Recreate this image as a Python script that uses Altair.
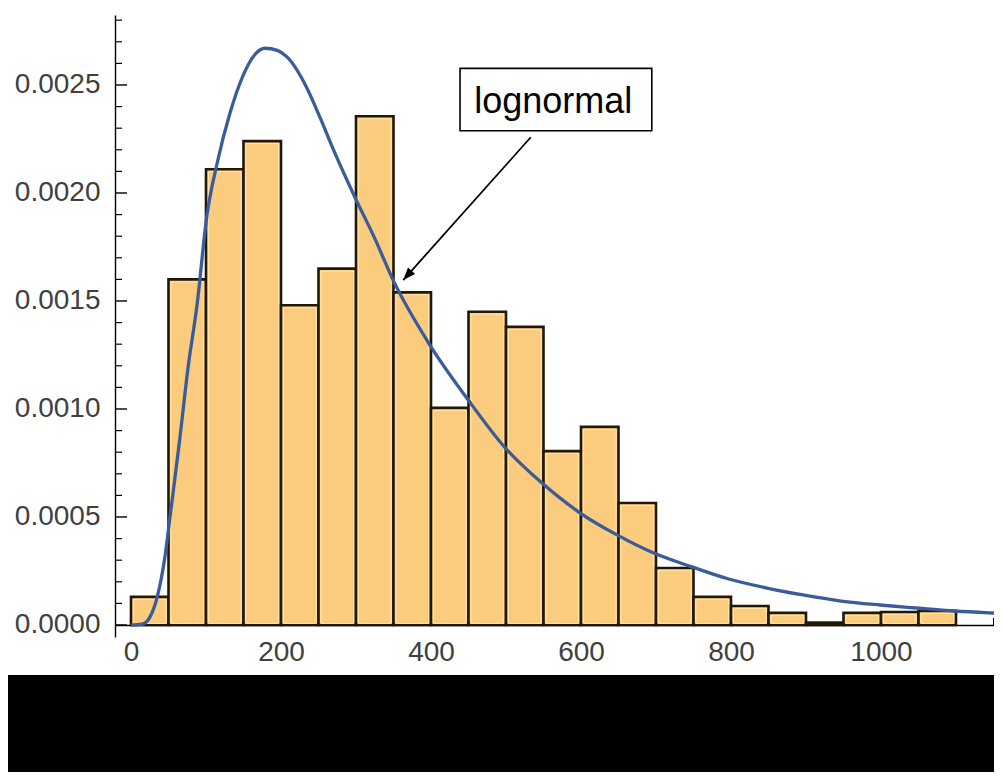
import altair as alt
import pandas as pd

# ---------------- data ----------------
bin_start = [0, 50, 100, 150, 200, 250, 300, 350, 400, 450, 500,
             550, 600, 650, 700, 750, 800, 850, 900, 950, 1000, 1050]
bin_density = [0.00013, 0.00160, 0.00211, 0.00224, 0.00148, 0.00165, 0.002355,
               0.00154, 0.001005, 0.00145, 0.00138, 0.000805, 0.000917, 0.000565,
               0.000264, 0.00013, 0.000088, 0.000056, 0.000011, 0.000056,
               0.00006, 0.000065]
bin_width = 50

curve_x = [0, 15, 25, 35, 45, 52, 65, 76, 88, 101, 115, 132, 149, 165, 179, 195,
           208, 234, 252, 270, 300, 325, 349, 396, 450, 499, 548, 597, 648, 697,
           748, 797, 848, 896, 947, 999, 1047, 1099, 1148, 1170]
curve_y = [0.0, 0.000004, 0.000035, 0.00013, 0.00031, 0.0005, 0.00086, 0.00119,
           0.00148, 0.00189, 0.00214, 0.00237, 0.00254, 0.00264, 0.00267, 0.00266,
           0.00263, 0.00249, 0.00235, 0.00220, 0.00197, 0.00179, 0.00160, 0.00131,
           0.00104, 0.00082, 0.000657, 0.000523, 0.000417, 0.000333, 0.000269,
           0.000213, 0.000171, 0.000139, 0.000111, 0.0000926, 0.0000787,
           0.0000648, 0.0000556, 0.000052]

y_major = [0.0, 0.0005, 0.0010, 0.0015, 0.0020, 0.0025]
y_minor = [0.0001, 0.0002, 0.0003, 0.0004, 0.0006, 0.0007, 0.0008, 0.0009,
           0.0011, 0.0012, 0.0013, 0.0014, 0.0016, 0.0017, 0.0018, 0.0019,
           0.0021, 0.0022, 0.0023, 0.0024, 0.0026, 0.0027, 0.0028]
x_major = [0, 200, 400, 600, 800, 1000]
x_minor = [50, 100, 150, 250, 300, 350, 450, 500, 550, 650, 700, 750,
           850, 900, 950, 1050, 1100, 1150]

label_text = "lognormal"
label_pos = {"x": 563.0, "y": 0.00237}
label_box = {"x": 438.7, "x2": 694.4, "y": 0.002577, "y2": 0.002288}
arrow = {"x": 533.0, "y": 0.002258, "x2": 363.0, "y2": 0.001597}

# ---------------- chart ----------------
FONT = "Liberation Sans"
bars_df = pd.DataFrame({"start": bin_start, "density": bin_density})
curve_df = pd.DataFrame({"x": curve_x, "y": curve_y})

xscale = alt.Scale(domain=[-21.33, 1150.67], nice=False, zero=False)
yscale = alt.Scale(domain=[-0.0000556, 0.002824], nice=False, zero=False)

x_axis = alt.Axis(values=x_major, format="d", offset=-12, title=None, grid=False,
                  ticks=False, tickSize=0, labelPadding=13, labelFont=FONT,
                  labelFontSize=28, labelColor="#404040", domainColor="black",
                  domainWidth=1.4, labelFlush=False)
y_axis = alt.Axis(values=y_major, format=".4f", title=None, grid=False,
                  ticks=False, tickSize=0, labelPadding=15, labelFont=FONT,
                  labelFontSize=28, labelColor="#404040", domainColor="black",
                  domainWidth=1.4, labelFlush=False)


def X(field):
    return alt.X(field, scale=xscale, axis=x_axis)


def Y(field):
    return alt.Y(field, scale=yscale, axis=y_axis)


band = alt.Chart(alt.Data(values=[{}])).mark_rect(color="black").encode(
    x=alt.value(-107), x2=alt.value(879), y=alt.value(660), y2=alt.value(757))

xt_major = alt.Chart(pd.DataFrame({"v": x_major})).mark_rule(
    color="black", strokeWidth=1.2).encode(
    x=X("v:Q"), y=alt.value(610), y2=alt.value(598))
xt_minor = alt.Chart(pd.DataFrame({"v": x_minor})).mark_rule(
    color="black", strokeWidth=1.0).encode(
    x=X("v:Q"), y=alt.value(610), y2=alt.value(603))

bars = alt.Chart(bars_df).transform_calculate(
    end=f"datum.start + {bin_width}"
).mark_bar(fill="#FBCB7E", stroke="#22180A", strokeWidth=2.6).encode(
    x=X("start:Q"), x2="end:Q", y=Y("density:Q"), y2=alt.datum(0))

bars_inner = alt.Chart(bars_df).transform_calculate(
    end=f"datum.start + {bin_width}"
).transform_filter("datum.density > 0.00003").mark_bar(
    fill="transparent", stroke="#FFE8A4", strokeWidth=1.0,
    xOffset=2.4, x2Offset=-2.4, yOffset=2.4, y2Offset=-1.5).encode(
    x=X("start:Q"), x2="end:Q", y=Y("density:Q"), y2=alt.datum(0))

yt_major = alt.Chart(pd.DataFrame({"v": y_major})).mark_rule(
    color="black", strokeWidth=1.4).encode(
    y=Y("v:Q"), x=alt.value(0), x2=alt.value(12))
yt_minor = alt.Chart(pd.DataFrame({"v": y_minor})).mark_rule(
    color="black", strokeWidth=1.2).encode(
    y=Y("v:Q"), x=alt.value(0), x2=alt.value(7))

curve = alt.Chart(curve_df).mark_line(
    color="#3B5C9B", strokeWidth=3.3, interpolate="monotone", clip=True).encode(
    x=X("x:Q"), y=Y("y:Q"))

box = alt.Chart(alt.Data(values=[label_box])).mark_rect(
    fill="white", stroke="black", strokeWidth=1.6).encode(
    x=X("x:Q"), x2="x2:Q", y=Y("y:Q"), y2="y2:Q")

text = alt.Chart(alt.Data(values=[dict(label_pos, t=label_text)])).mark_text(
    font=FONT, fontSize=36, color="black", align="center",
    baseline="alphabetic").encode(
    x=X("x:Q"), y=Y("y:Q"), text="t:N")

arrow_line = alt.Chart(alt.Data(values=[arrow])).mark_rule(
    color="black", strokeWidth=1.8).encode(
    x=X("x:Q"), x2="x2:Q", y=Y("y:Q"), y2="y2:Q")

arrow_head = alt.Chart(alt.Data(values=[arrow])).mark_point(
    shape="M0,0 L-0.38,1 L0.38,1 Z", size=620, angle=221.8, filled=True,
    color="black", opacity=1).encode(
    x=X("x2:Q"), y=Y("y2:Q"))

chart = alt.layer(
    band, xt_major, xt_minor, bars, bars_inner, yt_major, yt_minor, curve,
    box, text, arrow_line, arrow_head
).properties(
    width=879, height=622,
    autosize=alt.AutoSizeParams(type="none"),
    padding={"left": 107, "top": 7, "right": 0, "bottom": 135},
    background="white",
).configure_view(stroke=None)

chart.save("out.html", embed_options={"renderer": "svg", "actions": False})
